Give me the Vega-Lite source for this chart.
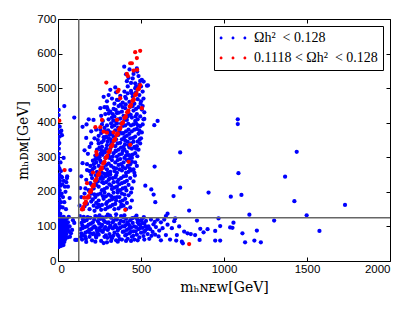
{
"$schema": "https://vega.github.io/schema/vega-lite/v6.json",
"width": 332, "height": 242,
"autosize": {"type": "none"},
"padding": {"left": 58, "top": 19, "right": 25, "bottom": 51},
"config": {
 "view": {"stroke": "black", "strokeWidth": 1},
 "axis": {"labelFont": "Liberation Sans", "labelFontSize": 11.5, "labelColor": "black", "titleFont": "DejaVu Serif", "titleFontSize": 14, "titleFontWeight": "normal", "titleColor": "black", "grid": false, "domain": false, "tickColor": "black", "tickSize": -4, "tickWidth": 1, "format": "d"}
},
"datasets": {
"pts": [
{"x":2,"y":40,"g":"A"},{"x":5,"y":45,"g":"A"},{"x":8,"y":42,"g":"A"},{"x":12,"y":48,"g":"A"},{"x":3,"y":52,"g":"A"},{"x":15,"y":55,"g":"A"},{"x":20,"y":44,"g":"A"},{"x":25,"y":50,"g":"A"},{"x":7,"y":58,"g":"A"},{"x":18,"y":62,"g":"A"},{"x":28,"y":58,"g":"A"},{"x":33,"y":46,"g":"A"},{"x":1,"y":65,"g":"A"},{"x":10,"y":68,"g":"A"},{"x":22,"y":70,"g":"A"},{"x":30,"y":66,"g":"A"},{"x":38,"y":55,"g":"A"},{"x":42,"y":62,"g":"A"},{"x":4,"y":75,"g":"A"},{"x":14,"y":78,"g":"A"},{"x":26,"y":80,"g":"A"},{"x":35,"y":74,"g":"A"},{"x":45,"y":70,"g":"A"},{"x":50,"y":78,"g":"A"},{"x":2,"y":85,"g":"A"},{"x":9,"y":88,"g":"A"},{"x":19,"y":90,"g":"A"},{"x":31,"y":86,"g":"A"},{"x":40,"y":84,"g":"A"},{"x":55,"y":88,"g":"A"},{"x":6,"y":95,"g":"A"},{"x":16,"y":98,"g":"A"},{"x":24,"y":96,"g":"A"},{"x":36,"y":94,"g":"A"},{"x":48,"y":98,"g":"A"},{"x":58,"y":92,"g":"A"},{"x":3,"y":105,"g":"A"},{"x":12,"y":108,"g":"A"},{"x":21,"y":104,"g":"A"},{"x":29,"y":110,"g":"A"},{"x":39,"y":106,"g":"A"},{"x":52,"y":102,"g":"A"},{"x":8,"y":115,"g":"A"},{"x":17,"y":118,"g":"A"},{"x":27,"y":114,"g":"A"},{"x":44,"y":116,"g":"A"},{"x":60,"y":112,"g":"A"},{"x":1,"y":122,"g":"A"},{"x":11,"y":126,"g":"A"},{"x":23,"y":124,"g":"A"},{"x":34,"y":128,"g":"A"},{"x":5,"y":132,"g":"A"},{"x":14,"y":136,"g":"A"},{"x":2,"y":140,"g":"A"},{"x":30,"y":120,"g":"A"},{"x":46,"y":108,"g":"A"},{"x":37,"y":118,"g":"A"},{"x":20,"y":82,"g":"A"},{"x":11,"y":72,"g":"A"},{"x":27,"y":92,"g":"A"},{"x":6,"y":60,"g":"A"},{"x":16,"y":50,"g":"A"},{"x":40,"y":95,"g":"A"},{"x":53,"y":122,"g":"A"},{"x":62,"y":100,"g":"A"},{"x":1,"y":100,"g":"A"},{"x":1,"y":80,"g":"A"},{"x":1,"y":58,"g":"A"},{"x":9,"y":132,"g":"A"},{"x":65,"y":128,"g":"A"},{"x":4,"y":112,"g":"A"},{"x":26,"y":65,"g":"A"},{"x":43,"y":82,"g":"A"},{"x":57,"y":68,"g":"A"},{"x":35,"y":100,"g":"A"},{"x":78,"y":80,"g":"A"},{"x":90,"y":118,"g":"A"},{"x":104,"y":61,"g":"A"},{"x":114,"y":61,"g":"A"},{"x":70,"y":100,"g":"A"},{"x":85,"y":90,"g":"A"},{"x":98,"y":110,"g":"A"},{"x":72,"y":70,"g":"A"},{"x":66,"y":85,"g":"A"},
{"x":2,"y":145,"g":"A"},{"x":6,"y":152,"g":"A"},{"x":12,"y":158,"g":"A"},{"x":3,"y":165,"g":"A"},{"x":18,"y":170,"g":"A"},{"x":8,"y":178,"g":"A"},{"x":1,"y":185,"g":"A"},{"x":14,"y":190,"g":"A"},{"x":4,"y":198,"g":"A"},{"x":22,"y":195,"g":"A"},{"x":10,"y":205,"g":"A"},{"x":2,"y":212,"g":"A"},{"x":16,"y":218,"g":"A"},{"x":6,"y":225,"g":"A"},{"x":26,"y":222,"g":"A"},{"x":12,"y":232,"g":"A"},{"x":3,"y":240,"g":"A"},{"x":24,"y":242,"g":"A"},{"x":8,"y":250,"g":"A"},{"x":35,"y":232,"g":"A"},{"x":42,"y":215,"g":"A"},{"x":50,"y":228,"g":"A"},{"x":55,"y":245,"g":"A"},{"x":45,"y":200,"g":"A"},{"x":30,"y":185,"g":"A"},{"x":38,"y":170,"g":"A"},{"x":28,"y":155,"g":"A"},{"x":48,"y":150,"g":"A"},{"x":8,"y":268,"g":"A"},{"x":2,"y":275,"g":"A"},{"x":1,"y":295,"g":"A"},{"x":34,"y":298,"g":"A"},{"x":5,"y":325,"g":"A"},{"x":2,"y":338,"g":"A"},{"x":8,"y":341,"g":"A"},{"x":10,"y":360,"g":"A"},{"x":24,"y":364,"g":"A"},{"x":20,"y":377,"g":"A"},{"x":10,"y":389,"g":"A"},{"x":4,"y":422,"g":"A"},{"x":4,"y":437,"g":"A"},{"x":38,"y":448,"g":"A"},{"x":98,"y":415,"g":"A"},{"x":3,"y":390,"g":"A"},{"x":14,"y":372,"g":"A"},{"x":1,"y":350,"g":"A"},{"x":18,"y":260,"g":"A"},{"x":60,"y":215,"g":"A"},{"x":70,"y":182,"g":"A"},{"x":74,"y":263,"g":"A"},{"x":20,"y":244,"g":"A"},{"x":54,"y":240,"g":"A"},{"x":4,"y":374,"g":"A"},{"x":1,"y":300,"g":"A"},{"x":6,"y":310,"g":"A"},{"x":15,"y":285,"g":"A"},
{"x":148,"y":388,"g":"A"},{"x":170,"y":356,"g":"A"},{"x":148,"y":283,"g":"A"},{"x":175,"y":263,"g":"A"},{"x":134,"y":211,"g":"A"},{"x":160,"y":320,"g":"A"},{"x":185,"y":410,"g":"A"},{"x":200,"y":375,"g":"A"},{"x":140,"y":245,"g":"A"},{"x":172,"y":395,"g":"A"},{"x":214,"y":408,"g":"A"},{"x":255,"y":442,"g":"A"},{"x":275,"y":475,"g":"A"},{"x":230,"y":380,"g":"A"},{"x":220,"y":355,"g":"A"},{"x":260,"y":420,"g":"A"},{"x":190,"y":330,"g":"A"},{"x":180,"y":310,"g":"A"},{"x":200,"y":340,"g":"A"},{"x":210,"y":290,"g":"A"},{"x":190,"y":260,"g":"A"},{"x":170,"y":235,"g":"A"},{"x":165,"y":210,"g":"A"},{"x":175,"y":280,"g":"A"},{"x":160,"y":195,"g":"A"},{"x":195,"y":275,"g":"A"},{"x":130,"y":160,"g":"A"},{"x":140,"y":185,"g":"A"},{"x":150,"y":150,"g":"A"},
{"x":135,"y":92,"g":"A"},{"x":142,"y":110,"g":"A"},{"x":150,"y":75,"g":"A"},{"x":155,"y":128,"g":"A"},{"x":162,"y":98,"g":"A"},{"x":168,"y":64,"g":"A"},{"x":172,"y":118,"g":"A"},{"x":178,"y":85,"g":"A"},{"x":185,"y":105,"g":"A"},{"x":190,"y":70,"g":"A"},{"x":195,"y":125,"g":"A"},{"x":200,"y":92,"g":"A"},{"x":205,"y":60,"g":"A"},{"x":210,"y":112,"g":"A"},{"x":215,"y":80,"g":"A"},{"x":220,"y":100,"g":"A"},{"x":225,"y":130,"g":"A"},{"x":230,"y":68,"g":"A"},{"x":235,"y":88,"g":"A"},{"x":240,"y":115,"g":"A"},{"x":245,"y":76,"g":"A"},{"x":250,"y":95,"g":"A"},{"x":255,"y":122,"g":"A"},{"x":260,"y":58,"g":"A"},{"x":265,"y":105,"g":"A"},{"x":270,"y":84,"g":"A"},{"x":275,"y":118,"g":"A"},{"x":280,"y":70,"g":"A"},{"x":285,"y":98,"g":"A"},{"x":290,"y":128,"g":"A"},{"x":295,"y":54,"g":"A"},{"x":300,"y":90,"g":"A"},{"x":305,"y":112,"g":"A"},{"x":310,"y":78,"g":"A"},{"x":315,"y":102,"g":"A"},{"x":320,"y":125,"g":"A"},{"x":325,"y":66,"g":"A"},{"x":330,"y":94,"g":"A"},{"x":335,"y":116,"g":"A"},{"x":340,"y":82,"g":"A"},{"x":345,"y":104,"g":"A"},{"x":350,"y":60,"g":"A"},{"x":355,"y":120,"g":"A"},{"x":360,"y":88,"g":"A"},{"x":365,"y":72,"g":"A"},{"x":370,"y":108,"g":"A"},{"x":375,"y":96,"g":"A"},{"x":380,"y":130,"g":"A"},{"x":385,"y":62,"g":"A"},{"x":390,"y":84,"g":"A"},{"x":395,"y":114,"g":"A"},{"x":400,"y":100,"g":"A"},{"x":405,"y":74,"g":"A"},{"x":410,"y":122,"g":"A"},{"x":415,"y":90,"g":"A"},{"x":420,"y":64,"g":"A"},{"x":425,"y":106,"g":"A"},{"x":430,"y":80,"g":"A"},{"x":435,"y":118,"g":"A"},{"x":440,"y":96,"g":"A"},{"x":445,"y":70,"g":"A"},{"x":450,"y":110,"g":"A"},{"x":455,"y":86,"g":"A"},{"x":460,"y":62,"g":"A"},{"x":465,"y":126,"g":"A"},{"x":470,"y":98,"g":"A"},{"x":475,"y":76,"g":"A"},{"x":480,"y":112,"g":"A"},{"x":485,"y":92,"g":"A"},{"x":490,"y":68,"g":"A"},{"x":495,"y":104,"g":"A"},{"x":500,"y":82,"g":"A"},{"x":505,"y":120,"g":"A"},{"x":510,"y":96,"g":"A"},{"x":515,"y":72,"g":"A"},{"x":520,"y":108,"g":"A"},{"x":525,"y":88,"g":"A"},{"x":530,"y":116,"g":"A"},{"x":540,"y":78,"g":"A"},{"x":545,"y":100,"g":"A"},{"x":550,"y":64,"g":"A"},{"x":555,"y":92,"g":"A"},{"x":560,"y":120,"g":"A"},{"x":570,"y":84,"g":"A"},{"x":575,"y":106,"g":"A"},{"x":585,"y":76,"g":"A"},{"x":590,"y":98,"g":"A"},{"x":600,"y":120,"g":"A"},{"x":610,"y":88,"g":"A"},{"x":620,"y":112,"g":"A"},
{"x":140,"y":80,"g":"A"},{"x":148,"y":95,"g":"A"},{"x":158,"y":115,"g":"A"},{"x":165,"y":82,"g":"A"},{"x":175,"y":100,"g":"A"},{"x":182,"y":125,"g":"A"},{"x":188,"y":90,"g":"A"},{"x":198,"y":108,"g":"A"},{"x":208,"y":78,"g":"A"},{"x":218,"y":120,"g":"A"},{"x":228,"y":96,"g":"A"},{"x":238,"y":82,"g":"A"},{"x":248,"y":108,"g":"A"},{"x":258,"y":88,"g":"A"},{"x":268,"y":126,"g":"A"},{"x":278,"y":92,"g":"A"},{"x":288,"y":74,"g":"A"},{"x":298,"y":110,"g":"A"},{"x":308,"y":96,"g":"A"},{"x":318,"y":70,"g":"A"},{"x":328,"y":112,"g":"A"},{"x":338,"y":98,"g":"A"},{"x":348,"y":124,"g":"A"},{"x":358,"y":76,"g":"A"},{"x":368,"y":94,"g":"A"},{"x":378,"y":116,"g":"A"},{"x":388,"y":100,"g":"A"},{"x":398,"y":86,"g":"A"},{"x":408,"y":104,"g":"A"},{"x":418,"y":112,"g":"A"},{"x":428,"y":94,"g":"A"},{"x":438,"y":84,"g":"A"},{"x":448,"y":124,"g":"A"},{"x":458,"y":100,"g":"A"},{"x":468,"y":86,"g":"A"},{"x":478,"y":120,"g":"A"},{"x":488,"y":106,"g":"A"},{"x":498,"y":96,"g":"A"},{"x":508,"y":110,"g":"A"},{"x":518,"y":84,"g":"A"},{"x":528,"y":100,"g":"A"},{"x":145,"y":62,"g":"A"},{"x":170,"y":55,"g":"A"},{"x":225,"y":56,"g":"A"},{"x":275,"y":52,"g":"A"},{"x":320,"y":58,"g":"A"},{"x":360,"y":56,"g":"A"},{"x":410,"y":58,"g":"A"},{"x":440,"y":58,"g":"A"},{"x":480,"y":60,"g":"A"},{"x":520,"y":62,"g":"A"},{"x":250,"y":132,"g":"A"},{"x":300,"y":134,"g":"A"},{"x":350,"y":135,"g":"A"},{"x":400,"y":132,"g":"A"},{"x":150,"y":120,"g":"A"},{"x":132,"y":130,"g":"A"},{"x":138,"y":70,"g":"A"},
{"x":147,"y":103,"g":"A"},{"x":163,"y":71,"g":"A"},{"x":179,"y":127,"g":"A"},{"x":193,"y":81,"g":"A"},{"x":212,"y":97,"g":"A"},{"x":227,"y":73,"g":"A"},{"x":243,"y":127,"g":"A"},{"x":262,"y":101,"g":"A"},{"x":283,"y":113,"g":"A"},{"x":297,"y":67,"g":"A"},{"x":313,"y":131,"g":"A"},{"x":333,"y":73,"g":"A"},{"x":352,"y":97,"g":"A"},{"x":372,"y":63,"g":"A"},{"x":392,"y":127,"g":"A"},{"x":413,"y":77,"g":"A"},{"x":433,"y":101,"g":"A"},{"x":453,"y":73,"g":"A"},{"x":473,"y":131,"g":"A"},{"x":497,"y":117,"g":"A"},{"x":517,"y":127,"g":"A"},{"x":537,"y":93,"g":"A"},{"x":563,"y":73,"g":"A"},{"x":583,"y":113,"g":"A"},{"x":606,"y":71,"g":"A"},
{"x":160,"y":158,"g":"A"},{"x":175,"y":165,"g":"A"},{"x":190,"y":150,"g":"A"},{"x":200,"y":172,"g":"A"},{"x":215,"y":160,"g":"A"},{"x":225,"y":185,"g":"A"},{"x":235,"y":155,"g":"A"},{"x":245,"y":175,"g":"A"},{"x":255,"y":195,"g":"A"},{"x":265,"y":162,"g":"A"},{"x":275,"y":180,"g":"A"},{"x":285,"y":150,"g":"A"},{"x":295,"y":170,"g":"A"},{"x":305,"y":192,"g":"A"},{"x":315,"y":158,"g":"A"},{"x":325,"y":178,"g":"A"},{"x":335,"y":198,"g":"A"},{"x":345,"y":165,"g":"A"},{"x":355,"y":185,"g":"A"},{"x":365,"y":152,"g":"A"},{"x":375,"y":172,"g":"A"},{"x":385,"y":195,"g":"A"},{"x":395,"y":160,"g":"A"},{"x":405,"y":180,"g":"A"},{"x":415,"y":168,"g":"A"},{"x":425,"y":190,"g":"A"},{"x":435,"y":155,"g":"A"},{"x":200,"y":195,"g":"A"},{"x":220,"y":145,"g":"A"},{"x":240,"y":192,"g":"A"},{"x":260,"y":148,"g":"A"},{"x":280,"y":198,"g":"A"},{"x":300,"y":155,"g":"A"},{"x":320,"y":188,"g":"A"},{"x":340,"y":150,"g":"A"},{"x":360,"y":198,"g":"A"},{"x":380,"y":158,"g":"A"},{"x":400,"y":192,"g":"A"},{"x":190,"y":185,"g":"A"},{"x":210,"y":178,"g":"A"},{"x":230,"y":168,"g":"A"},{"x":250,"y":158,"g":"A"},{"x":270,"y":188,"g":"A"},{"x":290,"y":165,"g":"A"},{"x":310,"y":175,"g":"A"},{"x":330,"y":162,"g":"A"},{"x":350,"y":175,"g":"A"},{"x":370,"y":185,"g":"A"},{"x":390,"y":175,"g":"A"},{"x":410,"y":150,"g":"A"},{"x":445,"y":175,"g":"A"},{"x":440,"y":198,"g":"A"},
{"x":185,"y":205,"g":"A"},{"x":195,"y":225,"g":"A"},{"x":205,"y":240,"g":"A"},{"x":215,"y":210,"g":"A"},{"x":225,"y":232,"g":"A"},{"x":235,"y":248,"g":"A"},{"x":245,"y":215,"g":"A"},{"x":255,"y":238,"g":"A"},{"x":265,"y":205,"g":"A"},{"x":275,"y":225,"g":"A"},{"x":285,"y":245,"g":"A"},{"x":295,"y":212,"g":"A"},{"x":305,"y":235,"g":"A"},{"x":315,"y":250,"g":"A"},{"x":325,"y":208,"g":"A"},{"x":335,"y":228,"g":"A"},{"x":345,"y":242,"g":"A"},{"x":355,"y":215,"g":"A"},{"x":365,"y":235,"g":"A"},{"x":375,"y":205,"g":"A"},{"x":385,"y":225,"g":"A"},{"x":395,"y":245,"g":"A"},{"x":405,"y":212,"g":"A"},{"x":415,"y":232,"g":"A"},{"x":425,"y":220,"g":"A"},{"x":435,"y":240,"g":"A"},{"x":445,"y":210,"g":"A"},{"x":200,"y":250,"g":"A"},{"x":230,"y":220,"g":"A"},{"x":260,"y":245,"g":"A"},{"x":290,"y":228,"g":"A"},{"x":320,"y":218,"g":"A"},{"x":350,"y":248,"g":"A"},{"x":380,"y":240,"g":"A"},{"x":410,"y":246,"g":"A"},{"x":280,"y":208,"g":"A"},{"x":310,"y":222,"g":"A"},{"x":340,"y":212,"g":"A"},{"x":370,"y":222,"g":"A"},{"x":400,"y":228,"g":"A"},{"x":240,"y":230,"g":"A"},{"x":270,"y":238,"g":"A"},{"x":300,"y":248,"g":"A"},{"x":330,"y":240,"g":"A"},{"x":360,"y":205,"g":"A"},{"x":390,"y":210,"g":"A"},{"x":455,"y":230,"g":"A"},
{"x":205,"y":262,"g":"A"},{"x":215,"y":280,"g":"A"},{"x":225,"y":295,"g":"A"},{"x":235,"y":258,"g":"A"},{"x":245,"y":275,"g":"A"},{"x":255,"y":290,"g":"A"},{"x":265,"y":255,"g":"A"},{"x":275,"y":270,"g":"A"},{"x":285,"y":298,"g":"A"},{"x":295,"y":265,"g":"A"},{"x":305,"y":282,"g":"A"},{"x":315,"y":258,"g":"A"},{"x":325,"y":292,"g":"A"},{"x":335,"y":270,"g":"A"},{"x":345,"y":285,"g":"A"},{"x":355,"y":255,"g":"A"},{"x":365,"y":278,"g":"A"},{"x":375,"y":295,"g":"A"},{"x":385,"y":262,"g":"A"},{"x":395,"y":285,"g":"A"},{"x":405,"y":268,"g":"A"},{"x":415,"y":292,"g":"A"},{"x":425,"y":258,"g":"A"},{"x":435,"y":280,"g":"A"},{"x":445,"y":298,"g":"A"},{"x":455,"y":265,"g":"A"},{"x":465,"y":285,"g":"A"},{"x":475,"y":275,"g":"A"},{"x":250,"y":300,"g":"A"},{"x":280,"y":252,"g":"A"},{"x":310,"y":298,"g":"A"},{"x":340,"y":260,"g":"A"},{"x":370,"y":265,"g":"A"},{"x":400,"y":298,"g":"A"},{"x":430,"y":295,"g":"A"},{"x":460,"y":255,"g":"A"},{"x":220,"y":270,"g":"A"},{"x":260,"y":285,"g":"A"},{"x":290,"y":278,"g":"A"},{"x":320,"y":275,"g":"A"},{"x":350,"y":268,"g":"A"},{"x":380,"y":280,"g":"A"},{"x":410,"y":255,"g":"A"},{"x":440,"y":262,"g":"A"},{"x":230,"y":285,"g":"A"},{"x":300,"y":255,"g":"A"},{"x":360,"y":292,"g":"A"},{"x":390,"y":272,"g":"A"},{"x":420,"y":275,"g":"A"},
{"x":225,"y":305,"g":"A"},{"x":235,"y":322,"g":"A"},{"x":245,"y":340,"g":"A"},{"x":255,"y":310,"g":"A"},{"x":265,"y":330,"g":"A"},{"x":275,"y":348,"g":"A"},{"x":285,"y":315,"g":"A"},{"x":295,"y":335,"g":"A"},{"x":305,"y":305,"g":"A"},{"x":315,"y":325,"g":"A"},{"x":325,"y":345,"g":"A"},{"x":335,"y":312,"g":"A"},{"x":345,"y":332,"g":"A"},{"x":355,"y":302,"g":"A"},{"x":365,"y":322,"g":"A"},{"x":375,"y":342,"g":"A"},{"x":385,"y":310,"g":"A"},{"x":395,"y":330,"g":"A"},{"x":405,"y":348,"g":"A"},{"x":415,"y":315,"g":"A"},{"x":425,"y":335,"g":"A"},{"x":435,"y":305,"g":"A"},{"x":445,"y":325,"g":"A"},{"x":455,"y":345,"g":"A"},{"x":465,"y":312,"g":"A"},{"x":475,"y":332,"g":"A"},{"x":485,"y":322,"g":"A"},{"x":495,"y":340,"g":"A"},{"x":240,"y":350,"g":"A"},{"x":270,"y":312,"g":"A"},{"x":300,"y":345,"g":"A"},{"x":330,"y":302,"g":"A"},{"x":360,"y":340,"g":"A"},{"x":390,"y":318,"g":"A"},{"x":420,"y":345,"g":"A"},{"x":450,"y":308,"g":"A"},{"x":480,"y":345,"g":"A"},{"x":260,"y":320,"g":"A"},{"x":290,"y":325,"g":"A"},{"x":320,"y":338,"g":"A"},{"x":350,"y":318,"g":"A"},{"x":380,"y":328,"g":"A"},{"x":410,"y":305,"g":"A"},{"x":440,"y":340,"g":"A"},{"x":470,"y":325,"g":"A"},{"x":250,"y":328,"g":"A"},{"x":310,"y":315,"g":"A"},{"x":340,"y":348,"g":"A"},{"x":370,"y":308,"g":"A"},{"x":400,"y":322,"g":"A"},{"x":430,"y":328,"g":"A"},{"x":460,"y":330,"g":"A"},
{"x":245,"y":362,"g":"A"},{"x":255,"y":380,"g":"A"},{"x":265,"y":395,"g":"A"},{"x":275,"y":358,"g":"A"},{"x":285,"y":375,"g":"A"},{"x":295,"y":392,"g":"A"},{"x":305,"y":355,"g":"A"},{"x":315,"y":372,"g":"A"},{"x":325,"y":388,"g":"A"},{"x":335,"y":360,"g":"A"},{"x":345,"y":378,"g":"A"},{"x":355,"y":398,"g":"A"},{"x":365,"y":365,"g":"A"},{"x":375,"y":385,"g":"A"},{"x":385,"y":352,"g":"A"},{"x":395,"y":370,"g":"A"},{"x":405,"y":392,"g":"A"},{"x":415,"y":362,"g":"A"},{"x":425,"y":380,"g":"A"},{"x":435,"y":355,"g":"A"},{"x":445,"y":375,"g":"A"},{"x":455,"y":395,"g":"A"},{"x":465,"y":360,"g":"A"},{"x":475,"y":382,"g":"A"},{"x":485,"y":368,"g":"A"},{"x":495,"y":390,"g":"A"},{"x":505,"y":372,"g":"A"},{"x":510,"y":395,"g":"A"},{"x":260,"y":370,"g":"A"},{"x":290,"y":360,"g":"A"},{"x":320,"y":398,"g":"A"},{"x":350,"y":352,"g":"A"},{"x":380,"y":398,"g":"A"},{"x":410,"y":375,"g":"A"},{"x":440,"y":392,"g":"A"},{"x":470,"y":398,"g":"A"},{"x":500,"y":355,"g":"A"},{"x":280,"y":385,"g":"A"},{"x":310,"y":365,"g":"A"},{"x":340,"y":392,"g":"A"},{"x":370,"y":375,"g":"A"},{"x":400,"y":358,"g":"A"},{"x":430,"y":368,"g":"A"},{"x":460,"y":380,"g":"A"},{"x":490,"y":378,"g":"A"},
{"x":270,"y":405,"g":"A"},{"x":285,"y":425,"g":"A"},{"x":295,"y":445,"g":"A"},{"x":305,"y":410,"g":"A"},{"x":315,"y":432,"g":"A"},{"x":325,"y":415,"g":"A"},{"x":335,"y":440,"g":"A"},{"x":345,"y":405,"g":"A"},{"x":355,"y":428,"g":"A"},{"x":365,"y":448,"g":"A"},{"x":375,"y":412,"g":"A"},{"x":385,"y":432,"g":"A"},{"x":395,"y":420,"g":"A"},{"x":405,"y":442,"g":"A"},{"x":415,"y":408,"g":"A"},{"x":425,"y":428,"g":"A"},{"x":435,"y":446,"g":"A"},{"x":445,"y":415,"g":"A"},{"x":455,"y":435,"g":"A"},{"x":465,"y":405,"g":"A"},{"x":475,"y":425,"g":"A"},{"x":485,"y":445,"g":"A"},{"x":495,"y":418,"g":"A"},{"x":505,"y":438,"g":"A"},{"x":515,"y":410,"g":"A"},{"x":520,"y":430,"g":"A"},{"x":300,"y":438,"g":"A"},{"x":330,"y":425,"g":"A"},{"x":360,"y":410,"g":"A"},{"x":390,"y":445,"g":"A"},{"x":420,"y":418,"g":"A"},{"x":450,"y":448,"g":"A"},{"x":480,"y":410,"g":"A"},{"x":510,"y":448,"g":"A"},{"x":280,"y":445,"g":"A"},{"x":340,"y":418,"g":"A"},{"x":400,"y":408,"g":"A"},{"x":470,"y":440,"g":"A"},
{"x":295,"y":462,"g":"A"},{"x":305,"y":480,"g":"A"},{"x":315,"y":495,"g":"A"},{"x":325,"y":470,"g":"A"},{"x":340,"y":455,"g":"A"},{"x":350,"y":488,"g":"A"},{"x":365,"y":466,"g":"A"},{"x":375,"y":478,"g":"A"},{"x":390,"y":458,"g":"A"},{"x":400,"y":490,"g":"A"},{"x":410,"y":470,"g":"A"},{"x":420,"y":485,"g":"A"},{"x":430,"y":460,"g":"A"},{"x":440,"y":492,"g":"A"},{"x":450,"y":475,"g":"A"},{"x":460,"y":455,"g":"A"},{"x":470,"y":488,"g":"A"},{"x":480,"y":468,"g":"A"},{"x":490,"y":480,"g":"A"},{"x":500,"y":462,"g":"A"},{"x":510,"y":490,"g":"A"},{"x":515,"y":470,"g":"A"},{"x":345,"y":502,"g":"A"},{"x":355,"y":466,"g":"A"},{"x":405,"y":475,"g":"A"},{"x":445,"y":485,"g":"A"},{"x":465,"y":500,"g":"A"},
{"x":212,"y":268,"g":"A"},{"x":238,"y":296,"g":"A"},{"x":263,"y":343,"g":"A"},{"x":278,"y":318,"g":"A"},{"x":302,"y":378,"g":"A"},{"x":318,"y":352,"g":"A"},{"x":333,"y":406,"g":"A"},{"x":348,"y":437,"g":"A"},{"x":362,"y":386,"g":"A"},{"x":377,"y":452,"g":"A"},{"x":393,"y":391,"g":"A"},{"x":408,"y":453,"g":"A"},{"x":423,"y":397,"g":"A"},{"x":438,"y":423,"g":"A"},{"x":452,"y":356,"g":"A"},{"x":467,"y":418,"g":"A"},{"x":482,"y":392,"g":"A"},{"x":497,"y":455,"g":"A"},{"x":228,"y":248,"g":"A"},{"x":247,"y":303,"g":"A"},{"x":268,"y":307,"g":"A"},{"x":287,"y":357,"g":"A"},{"x":306,"y":427,"g":"A"},{"x":326,"y":366,"g":"A"},{"x":347,"y":319,"g":"A"},{"x":366,"y":429,"g":"A"},{"x":386,"y":369,"g":"A"},{"x":403,"y":337,"g":"A"},{"x":427,"y":306,"g":"A"},{"x":446,"y":287,"g":"A"},{"x":463,"y":247,"g":"A"},{"x":478,"y":303,"g":"A"},{"x":492,"y":352,"g":"A"},{"x":201,"y":221,"g":"A"},{"x":218,"y":193,"g":"A"},{"x":243,"y":163,"g":"A"},{"x":266,"y":228,"g":"A"},{"x":289,"y":187,"g":"A"},{"x":312,"y":239,"g":"A"},{"x":338,"y":183,"g":"A"},{"x":357,"y":229,"g":"A"},{"x":383,"y":163,"g":"A"},{"x":412,"y":204,"g":"A"},{"x":432,"y":268,"g":"A"},
{"x":399,"y":562,"g":"A"},{"x":431,"y":554,"g":"A"},{"x":475,"y":557,"g":"A"},{"x":477,"y":548,"g":"A"},{"x":455,"y":541,"g":"A"},{"x":505,"y":524,"g":"A"},{"x":516,"y":519,"g":"A"},{"x":495,"y":521,"g":"A"},{"x":536,"y":507,"g":"A"},{"x":465,"y":514,"g":"A"},{"x":425,"y":530,"g":"A"},{"x":440,"y":515,"g":"A"},{"x":410,"y":540,"g":"A"},{"x":485,"y":535,"g":"A"},{"x":450,"y":528,"g":"A"},{"x":420,"y":505,"g":"A"},{"x":470,"y":505,"g":"A"},{"x":490,"y":510,"g":"A"},{"x":500,"y":505,"g":"A"},{"x":415,"y":520,"g":"A"},
{"x":520,"y":411,"g":"A"},{"x":580,"y":393,"g":"A"},{"x":600,"y":405,"g":"A"},{"x":542,"y":508,"g":"A"},{"x":582,"y":273,"g":"A"},{"x":526,"y":218,"g":"A"},{"x":562,"y":207,"g":"A"},{"x":576,"y":192,"g":"A"},{"x":586,"y":170,"g":"A"},{"x":660,"y":137,"g":"A"},{"x":736,"y":314,"g":"A"},{"x":736,"y":212,"g":"A"},{"x":696,"y":188,"g":"A"},{"x":790,"y":146,"g":"A"},{"x":650,"y":130,"g":"A"},
{"x":1083,"y":410,"g":"A"},{"x":1083,"y":396,"g":"A"},{"x":1438,"y":316,"g":"A"},{"x":1087,"y":254,"g":"A"},{"x":1368,"y":244,"g":"A"},{"x":907,"y":198,"g":"A"},{"x":1041,"y":186,"g":"A"},{"x":1105,"y":191,"g":"A"},{"x":1424,"y":173,"g":"A"},{"x":1729,"y":162,"g":"A"},{"x":1153,"y":134,"g":"A"},{"x":1498,"y":132,"g":"A"},{"x":1302,"y":117,"g":"A"},{"x":1575,"y":87,"g":"A"},{"x":1198,"y":88,"g":"A"},{"x":1183,"y":59,"g":"A"},{"x":1222,"y":54,"g":"A"},{"x":1127,"y":54,"g":"A"},{"x":1111,"y":80,"g":"A"},{"x":1051,"y":96,"g":"A"},{"x":1037,"y":97,"g":"A"},{"x":1057,"y":111,"g":"A"},{"x":967,"y":123,"g":"A"},{"x":977,"y":101,"g":"A"},{"x":947,"y":87,"g":"A"},{"x":901,"y":92,"g":"A"},{"x":877,"y":83,"g":"A"},{"x":857,"y":93,"g":"A"},{"x":837,"y":117,"g":"A"},{"x":853,"y":61,"g":"A"},{"x":826,"y":75,"g":"A"},{"x":746,"y":56,"g":"A"},{"x":752,"y":51,"g":"A"},{"x":712,"y":59,"g":"A"},{"x":716,"y":75,"g":"A"},{"x":686,"y":95,"g":"A"},{"x":706,"y":123,"g":"A"},{"x":947,"y":59,"g":"A"},{"x":977,"y":59,"g":"A"},{"x":630,"y":95,"g":"A"},{"x":640,"y":120,"g":"A"},{"x":650,"y":75,"g":"A"},{"x":660,"y":105,"g":"A"},{"x":675,"y":62,"g":"A"},{"x":700,"y":115,"g":"A"},{"x":730,"y":100,"g":"A"},{"x":760,"y":85,"g":"A"},{"x":780,"y":80,"g":"A"},{"x":800,"y":78,"g":"A"},{"x":620,"y":60,"g":"A"},
{"x":144,"y":149,"g":"B"},{"x":152,"y":156,"g":"B"},{"x":160,"y":166,"g":"B"},{"x":168,"y":172,"g":"B"},{"x":176,"y":183,"g":"B"},{"x":184,"y":188,"g":"B"},{"x":192,"y":199,"g":"B"},{"x":200,"y":205,"g":"B"},{"x":208,"y":216,"g":"B"},{"x":216,"y":221,"g":"B"},{"x":224,"y":232,"g":"B"},{"x":232,"y":238,"g":"B"},{"x":240,"y":249,"g":"B"},{"x":248,"y":254,"g":"B"},{"x":256,"y":265,"g":"B"},{"x":264,"y":271,"g":"B"},{"x":272,"y":282,"g":"B"},{"x":280,"y":287,"g":"B"},{"x":288,"y":298,"g":"B"},{"x":296,"y":304,"g":"B"},{"x":304,"y":315,"g":"B"},{"x":312,"y":320,"g":"B"},{"x":320,"y":331,"g":"B"},{"x":328,"y":337,"g":"B"},{"x":336,"y":348,"g":"B"},{"x":344,"y":353,"g":"B"},{"x":352,"y":364,"g":"B"},{"x":360,"y":369,"g":"B"},{"x":368,"y":381,"g":"B"},{"x":376,"y":386,"g":"B"},{"x":384,"y":397,"g":"B"},{"x":392,"y":402,"g":"B"},{"x":400,"y":414,"g":"B"},{"x":408,"y":419,"g":"B"},{"x":416,"y":430,"g":"B"},{"x":424,"y":435,"g":"B"},{"x":432,"y":447,"g":"B"},{"x":440,"y":452,"g":"B"},{"x":448,"y":463,"g":"B"},{"x":456,"y":468,"g":"B"},{"x":464,"y":480,"g":"B"},{"x":472,"y":485,"g":"B"},{"x":480,"y":496,"g":"B"},{"x":488,"y":501,"g":"B"},{"x":495,"y":509,"g":"B"},
{"x":150,"y":150,"g":"B"},{"x":166,"y":166,"g":"B"},{"x":182,"y":184,"g":"B"},{"x":198,"y":200,"g":"B"},{"x":214,"y":216,"g":"B"},{"x":230,"y":234,"g":"B"},{"x":246,"y":250,"g":"B"},{"x":262,"y":266,"g":"B"},{"x":278,"y":284,"g":"B"},{"x":294,"y":300,"g":"B"},{"x":310,"y":316,"g":"B"},{"x":326,"y":333,"g":"B"},{"x":342,"y":350,"g":"B"},{"x":358,"y":366,"g":"B"},{"x":374,"y":382,"g":"B"},{"x":390,"y":399,"g":"B"},{"x":406,"y":415,"g":"B"},{"x":422,"y":431,"g":"B"},{"x":438,"y":448,"g":"B"},{"x":454,"y":464,"g":"B"},{"x":470,"y":481,"g":"B"},{"x":486,"y":497,"g":"B"},
{"x":158,"y":183,"g":"B"},{"x":175,"y":225,"g":"B"},{"x":211,"y":256,"g":"B"},{"x":231,"y":316,"g":"B"},{"x":233,"y":308,"g":"B"},{"x":225,"y":387,"g":"B"},{"x":255,"y":387,"g":"B"},{"x":291,"y":516,"g":"B"},{"x":265,"y":408,"g":"B"},{"x":275,"y":374,"g":"B"},{"x":295,"y":371,"g":"B"},{"x":365,"y":495,"g":"B"},{"x":375,"y":471,"g":"B"},{"x":415,"y":541,"g":"B"},{"x":421,"y":535,"g":"B"},{"x":435,"y":572,"g":"B"},{"x":445,"y":572,"g":"B"},{"x":465,"y":604,"g":"B"},{"x":495,"y":608,"g":"B"},{"x":475,"y":587,"g":"B"},{"x":455,"y":551,"g":"B"},{"x":477,"y":553,"g":"B"},{"x":505,"y":442,"g":"B"},{"x":435,"y":336,"g":"B"},{"x":425,"y":287,"g":"B"},{"x":405,"y":148,"g":"B"},{"x":355,"y":408,"g":"B"},{"x":8,"y":406,"g":"B"},{"x":40,"y":263,"g":"B"},{"x":790,"y":49,"g":"B"},{"x":360,"y":490,"g":"B"},{"x":335,"y":372,"g":"B"}
]
},
"layer": [
 {"data": {"name": "pts"},
  "mark": {"type": "circle", "size": 18, "opacity": 1, "clip": true},
  "encoding": {
   "x": {"field": "x", "type": "quantitative", "scale": {"domain": [0, 2000], "nice": false, "zero": false},
         "axis": {"orient": "bottom", "values": [0, 500, 1000, 1500, 2000], "labelPadding": 6, "title": "mₕɴᴇᴡ[GeV]", "titlePadding": 6}},
   "y": {"field": "y", "type": "quantitative", "scale": {"domain": [0, 700], "nice": false, "zero": false},
         "axis": {"orient": "left", "values": [0, 100, 200, 300, 400, 500, 600, 700], "labelPadding": 6, "title": "mₕᴅᴍ[GeV]", "titlePadding": 6}},
   "color": {"field": "g", "type": "nominal", "scale": {"domain": ["A", "B"], "range": ["#0000ff", "#ff0000"]},
     "legend": {"title": null, "orient": "top-right", "offset": 7, "padding": 5, "strokeColor": "black", "fillColor": "white", "cornerRadius": 0,
       "labelFont": "Liberation Serif", "labelFontSize": 14, "labelColor": "black", "labelLimit": 300,
       "symbolType": "M-1.91,0a0.21,0.21 0 1,0 0.42,0a0.21,0.21 0 1,0 -0.42,0M-0.21,0a0.21,0.21 0 1,0 0.42,0a0.21,0.21 0 1,0 -0.42,0M1.49,0a0.21,0.21 0 1,0 0.42,0a0.21,0.21 0 1,0 -0.42,0Z",
       "symbolSize": 196, "symbolStrokeWidth": 0, "symbolOffset": 7, "labelOffset": 14, "rowPadding": 6,
       "labelExpr": "datum.value == 'A' ? 'Ωh²\u00a0 < 0.128' : '0.1118 < Ωh²\u00a0 < 0.128'"}}
  }},
 {"data": {"values": [{"v": 125}]},
  "mark": {"type": "rule", "color": "#666666", "strokeWidth": 1.5},
  "encoding": {"x": {"field": "v", "type": "quantitative", "scale": {"domain": [0, 2000], "nice": false, "zero": false},
     "axis": {"orient": "top", "values": [0, 500, 1000, 1500, 2000], "labels": false, "title": null}}}},
 {"data": {"values": [{"v": 125}]},
  "mark": {"type": "rule", "color": "#666666", "strokeWidth": 1.5},
  "encoding": {"y": {"field": "v", "type": "quantitative", "scale": {"domain": [0, 700], "nice": false, "zero": false},
     "axis": {"orient": "right", "values": [0, 100, 200, 300, 400, 500, 600, 700], "labels": false, "title": null}}}}
],
"resolve": {"axis": {"x": "independent", "y": "independent"}}
}
